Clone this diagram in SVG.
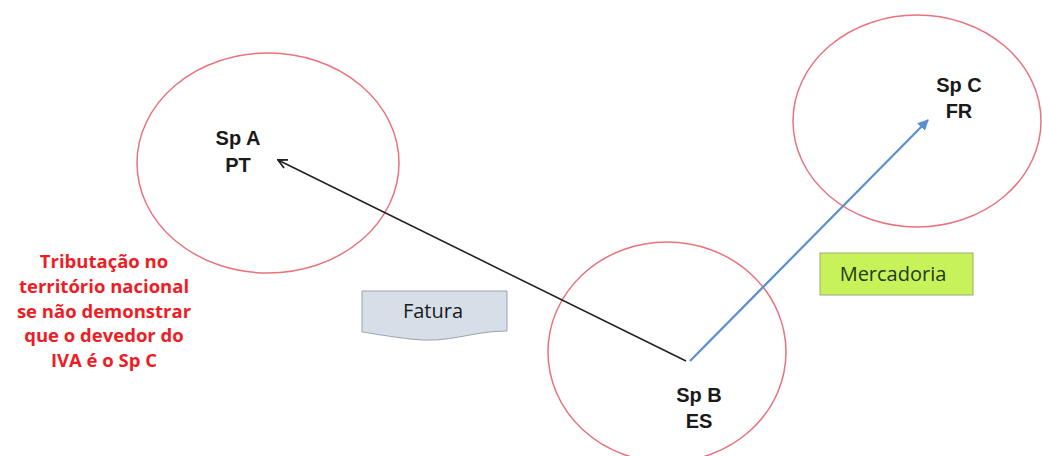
<svg xmlns="http://www.w3.org/2000/svg" width="1042" height="456" viewBox="0 0 1042 456">
  <style>
    .zone { fill: none; stroke: #e8737d; stroke-width: 1.5; }
    .lbl { font-family: "Liberation Sans", Arial, sans-serif; font-weight: bold; font-size: 20px; fill: #1a1a1a; text-anchor: middle; }
    .note { font-family: "Open Sans", "Liberation Sans", sans-serif; font-weight: bold; font-size: 18.5px; fill: #ee1c25; text-anchor: middle; }
    .tag { font-family: "Open Sans", "Liberation Sans", sans-serif; font-size: 20px; text-anchor: middle; }
  </style>
  <defs>
    <marker id="arrBlack" viewBox="0 0 10 10" refX="9" refY="5" markerWidth="7" markerHeight="7" orient="auto">
      <path d="M1,1 L9,5 L1,9" fill="none" stroke="#222" stroke-width="1.6"/>
    </marker>
    <marker id="arrBlue" viewBox="0 0 10 10" refX="9" refY="5" markerWidth="5" markerHeight="5" orient="auto">
      <path d="M0,0 L10,5 L0,10 z" fill="#5b8fd0"/>
    </marker>
  </defs>
  <rect width="1042" height="456" fill="#ffffff"/>

  <g id="spA">
    <ellipse class="zone" cx="268" cy="163" rx="131" ry="110"/>
    <text class="lbl" x="238" y="145">Sp A</text>
    <text class="lbl" x="238" y="172">PT</text>
  </g>

  <g id="spB">
    <ellipse class="zone" cx="667" cy="352" rx="119" ry="110"/>
    <text class="lbl" x="699" y="402">Sp B</text>
    <text class="lbl" x="699" y="428">ES</text>
  </g>

  <g id="spC">
    <ellipse class="zone" cx="917" cy="121" rx="124" ry="106"/>
    <text class="lbl" x="959" y="92">Sp C</text>
    <text class="lbl" x="959" y="118">FR</text>
  </g>

  <g id="connectors">
    <line x1="686" y1="361" x2="278" y2="160" stroke="#222" stroke-width="1.6" marker-end="url(#arrBlack)"/>
    <line x1="690" y1="361" x2="928" y2="120" stroke="#5b8fd0" stroke-width="2.2" marker-end="url(#arrBlue)"/>
  </g>

  <g id="fatura">
    <path d="M362,291 H507 V331 C470,331 450,344 410,339 C385,336 370,333 362,332 Z" fill="#d6dee8" stroke="#9aa3ad" stroke-width="1"/>
    <text class="tag" x="433" y="318" fill="#1a1a1a">Fatura</text>
  </g>

  <g id="mercadoria">
    <rect x="820" y="253" width="153" height="42" fill="#c8f25a" stroke="#9aab7a" stroke-width="1"/>
    <text class="tag" x="893" y="281" fill="#1f3a14">Mercadoria</text>
  </g>

  <g id="nota">
    <text class="note" x="104" y="268">Tributação no</text>
    <text class="note" x="104" y="293">território nacional</text>
    <text class="note" x="104" y="318">se não demonstrar</text>
    <text class="note" x="104" y="342">que o devedor do</text>
    <text class="note" x="104" y="367">IVA é o Sp C</text>
  </g>
</svg>
